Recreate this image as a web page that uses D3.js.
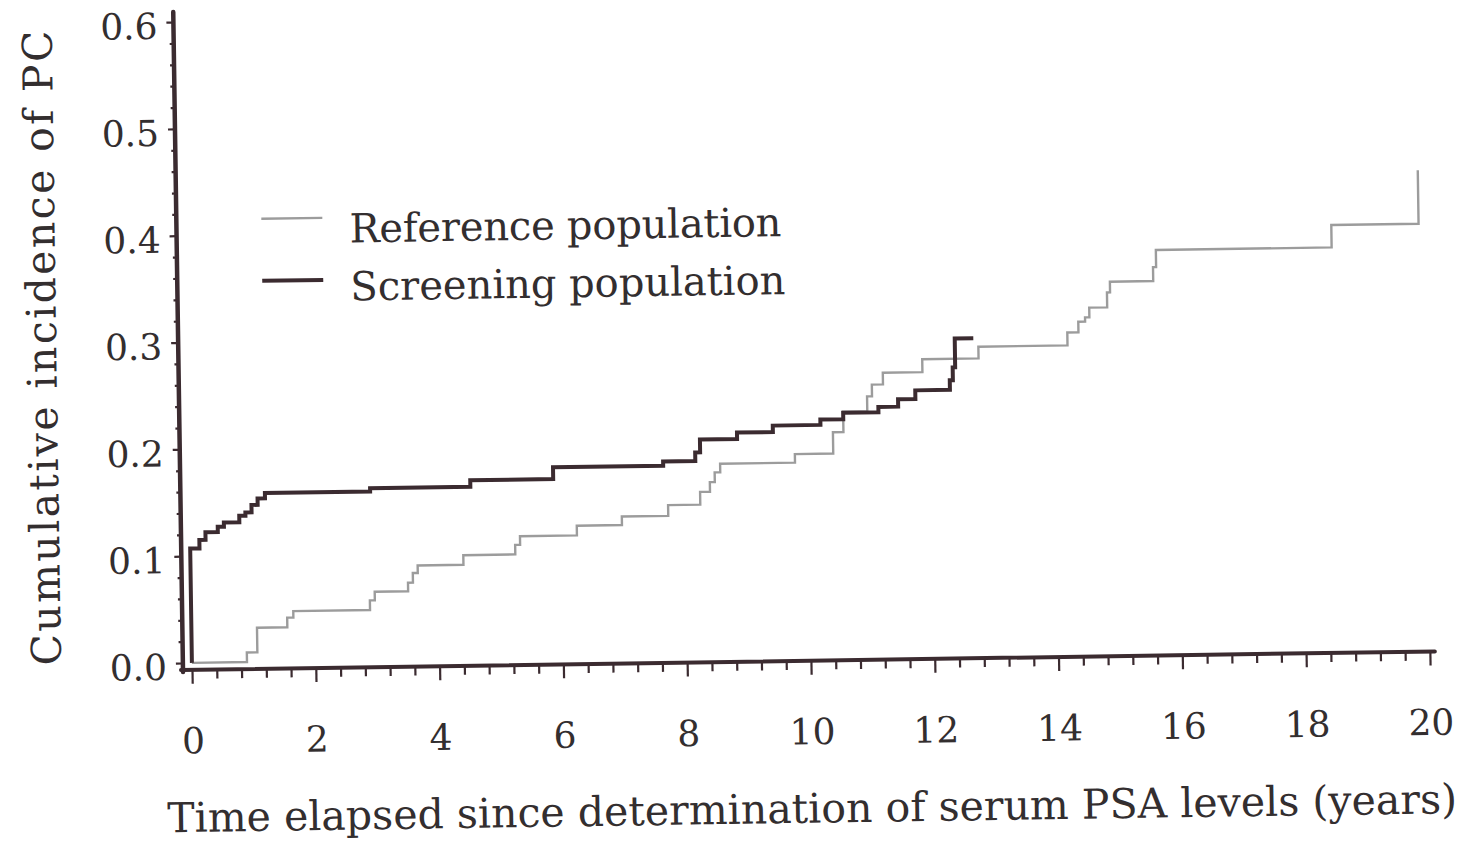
<!DOCTYPE html>
<html>
<head>
<meta charset="utf-8">
<script src="https://cdn.jsdelivr.net/npm/d3@7"></script>
<style>
  body { margin: 0; background: #ffffff; }
  text { font-family: "DejaVu Serif", "Liberation Serif", serif; fill: #332e2f; }
</style>
</head>
<body>
<div id="chart"></div>
<script>

// Data (years, cumulative incidence)
var refTime = [0, 0.89, 1.06, 1.55, 1.65, 2.89, 2.97, 3.51, 3.59, 3.67, 4.41, 5.25, 5.33, 6.25, 6.98,
  7.73, 8.25, 8.41, 8.49, 8.58, 9.79, 10.41, 10.58, 10.97, 11.05, 11.23, 11.87, 12.78, 14.22, 14.40,
  14.51, 14.58, 14.87, 14.92, 15.62, 15.67, 18.51, 19.92];
var refValue = [0, 0.009, 0.032, 0.041, 0.047, 0.056, 0.064, 0.072, 0.081, 0.088, 0.097, 0.106, 0.114, 0.123, 0.131,
  0.141, 0.153, 0.162, 0.171, 0.179, 0.187, 0.207, 0.226, 0.240, 0.251, 0.262, 0.274, 0.285, 0.297, 0.307,
  0.311, 0.320, 0.334, 0.344, 0.357, 0.373, 0.394, 0.444];

var scrTime = [0, 0, 0.15, 0.25, 0.45, 0.55, 0.8, 0.9, 1.0, 1.1, 1.22, 2.92, 4.54, 5.88, 7.66,
  8.18, 8.26, 8.86, 9.44, 10.21, 10.58, 11.15, 11.47, 11.75, 12.31, 12.36, 12.40, 12.70];
var scrValue = [0, 0.107, 0.115, 0.122, 0.127, 0.131, 0.137, 0.140, 0.147, 0.153, 0.158, 0.161, 0.167, 0.178, 0.182,
  0.190, 0.202, 0.208, 0.214, 0.219, 0.225, 0.230, 0.237, 0.245, 0.254, 0.266, 0.293, 0.293];

var xTicks = [0, 2, 4, 6, 8, 10, 12, 14, 16, 18, 20];
var yTicks = [0, 0.1, 0.2, 0.3, 0.4, 0.5, 0.6];
var seriesNames = ["Reference population", "Screening population"];


// Chart size
var svgWidth = 1468;
var svgHeight = 841;

// the scan is tilted a little, so the whole plot is drawn in a rotated group
var origin = {x: 183, y: 670};
var tilt = -0.85;

var axisColor = "#3b2b30";
var refColor = "#9c9c9c";


var svg = d3.select("#chart")
  .append("svg")
  .attr("width", svgWidth)
  .attr("height", svgHeight);

svg.append("rect")
  .attr("width", svgWidth)
  .attr("height", svgHeight)
  .attr("fill", "#ffffff");

var chartGroup = svg.append("g")
  .attr("transform", `translate(${origin.x}, ${origin.y}) rotate(${tilt})`);


// Scales (axes are offset a few px from the data origin, SAS style)
var xScale = d3.scaleLinear()
  .domain([0, 20])
  .range([9, 1247]);

var yScale = d3.scaleLinear()
  .domain([0, 0.6])
  .range([-7, -648]);


// Minor ticks
var xMinor = d3.range(0, 20.001, 0.4).filter(d => Math.abs(d / 2 - Math.round(d / 2)) > 0.01);
var yMinor = d3.range(0, 0.6001, 0.02).filter(d => Math.abs(d * 10 - Math.round(d * 10)) > 0.01);

chartGroup.append("g")
  .attr("class", "x-minor")
  .call(d3.axisBottom(xScale).tickValues(xMinor).tickSize(9).tickFormat(""));

chartGroup.append("g")
  .attr("class", "y-minor")
  .call(d3.axisLeft(yScale).tickValues(yMinor).tickSize(4).tickFormat(""));


// Major ticks + labels
var xAxis = chartGroup.append("g")
  .attr("class", "x-axis")
  .call(d3.axisBottom(xScale).tickValues(xTicks).tickSize(14).tickPadding(44).tickFormat(d3.format("d")));

var yAxis = chartGroup.append("g")
  .attr("class", "y-axis")
  .call(d3.axisLeft(yScale).tickValues(yTicks).tickSize(7).tickPadding(9).tickFormat(d3.format(".1f")));

chartGroup.selectAll(".domain").remove();
chartGroup.selectAll(".tick line")
  .attr("stroke", axisColor)
  .attr("stroke-width", 2.2);

xAxis.selectAll("text")
  .attr("font-size", "36px")
  .attr("fill", "#332e2f");

yAxis.selectAll("text")
  .attr("font-size", "36px")
  .attr("dy", "0.45em")
  .attr("fill", "#332e2f");


// Axis lines
chartGroup.append("line")
  .attr("x1", -2).attr("y1", 0)
  .attr("x2", 1252).attr("y2", 0)
  .attr("stroke", axisColor)
  .attr("stroke-width", 4)
  .attr("stroke-linecap", "round");

chartGroup.append("line")
  .attr("x1", 0).attr("y1", 2)
  .attr("x2", 0).attr("y2", -658)
  .attr("stroke", axisColor)
  .attr("stroke-width", 4.5)
  .attr("stroke-linecap", "round");


// Step curves
var stepLine = d3.line()
  .x(d => xScale(d[0]))
  .y(d => yScale(d[1]))
  .curve(d3.curveStepAfter);

var refData = refTime.map((t, i) => [t, refValue[i]]);
var scrData = scrTime.map((t, i) => [t, scrValue[i]]);

chartGroup.append("path")
  .datum(refData)
  .attr("d", stepLine)
  .attr("fill", "none")
  .attr("stroke", refColor)
  .attr("stroke-width", 2.4);

chartGroup.append("path")
  .datum(scrData)
  .attr("d", stepLine)
  .attr("fill", "none")
  .attr("stroke", axisColor)
  .attr("stroke-width", 4);


// Legend
var legend = [
  {name: seriesNames[0], color: refColor, width: 2.4, lineY: -450, textY: -425, len: 432},
  {name: seriesNames[1], color: axisColor, width: 4, lineY: -388, textY: -367, len: 435}
];

legend.forEach(function(l) {
  chartGroup.append("line")
    .attr("x1", 85).attr("y1", l.lineY)
    .attr("x2", 146).attr("y2", l.lineY)
    .attr("stroke", l.color)
    .attr("stroke-width", l.width);

  chartGroup.append("text")
    .attr("x", 173)
    .attr("y", l.textY)
    .attr("font-size", "40px")
    .attr("textLength", l.len)
    .attr("lengthAdjust", "spacing")
    .text(l.name);
});


// Axis titles
chartGroup.append("text")
  .attr("x", 627)
  .attr("y", 162)
  .attr("font-size", "41px")
  .attr("text-anchor", "middle")
  .attr("textLength", 1290)
  .attr("lengthAdjust", "spacing")
  .text("Time elapsed since determination of serum PSA levels (years)");

chartGroup.append("text")
  .attr("transform", "translate(-122, -324) rotate(-90)")
  .attr("font-size", "41px")
  .attr("text-anchor", "middle")
  .attr("textLength", 635)
  .attr("lengthAdjust", "spacing")
  .text("Cumulative incidence of PC");

</script>
</body>
</html>
